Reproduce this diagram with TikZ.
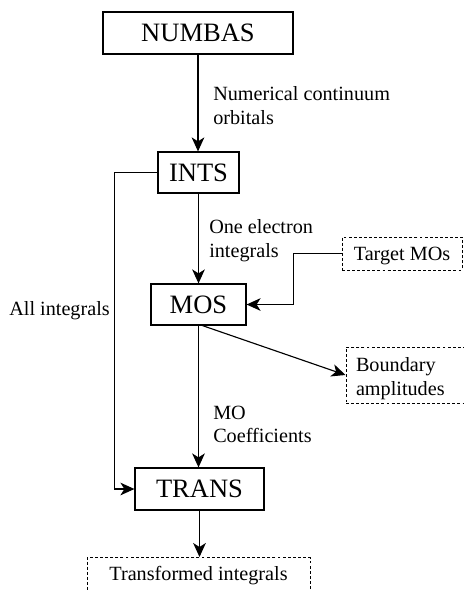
\documentclass[tikz,border=0pt]{standalone}
\usepackage{fontspec}
\setmainfont{Liberation Serif}
\usetikzlibrary{arrows.meta,calc}
\begin{document}
\begin{tikzpicture}[x=0.75pt,y=-0.75pt,
  box/.style={draw,line width=0.9pt,inner sep=0pt,font=\fontsize{19.9}{24}\selectfont},
  dbox/.style={draw,dash pattern=on 2.2pt off 1.6pt,line width=0.75pt,inner sep=0pt,font=\fontsize{15.15}{17.5}\selectfont},
  lbl/.style={inner sep=0pt,align=left,font=\fontsize{15.15}{17.5}\selectfont},
  conn/.style={line width=0.85pt},
  arr/.style={conn,-{Stealth[length=10.5pt,width=9.5pt,inset=3pt]}}]
\useasboundingbox (0,0) rectangle (464,590);
\node[box,minimum width=142.5pt,minimum height=31.5pt] (numbas) at (198,33) {NUMBAS};
\node[box,minimum width=60.75pt,minimum height=30.75pt] (ints) at (198.5,172.5) {INTS};
\node[box,minimum width=71.25pt,minimum height=30.75pt] (mos) at (198.5,304.5) {MOS};
\node[box,minimum width=96.75pt,minimum height=31.5pt] (trans) at (199.5,489) {TRANS};
\node[dbox,minimum width=90pt,minimum height=24.75pt,text depth=0pt] (target) at (402,253.5) {Target MOs};
\node[dbox,text width=73.5pt,inner xsep=7.5pt,minimum height=42pt,align=left] (bound) at (405,375) {\rule{0pt}{16pt}Boundary\\amplitudes};
\node[dbox,anchor=north,minimum width=167.25pt,inner ysep=7.5pt,text height=10pt,text depth=25pt] (trf) at (198.5,557) {Transformed integrals};
\draw[arr] (numbas.south) -- (numbas.south |- ints.north);
\draw[arr] (ints.south) -- (ints.south |- mos.north);
\draw[arr] (target.west) -- ++(-48,0) |- (mos.east);
\draw[arr] (ints.west) -- ++(-43,0) |- (trans.west);
\draw[arr] (mos.south) -- (mos.south |- trans.north);
\draw[arr] ([xshift=3pt]mos.south) -- (bound.west);
\draw[arr] (trans.south) -- (trans.south |- trf.north);
\node[lbl,anchor=base west] (l1) at (213,124) {Numerical continuum\\orbitals};
\node[lbl,anchor=base west] (l2) at (209,257) {One electron\\integrals};
\node[lbl,anchor=base west] (l3) at (213,442.5) {MO\\Coefficients};
\node[lbl,anchor=base east] (l4) at (110,315) {All integrals};
\end{tikzpicture}
\end{document}
